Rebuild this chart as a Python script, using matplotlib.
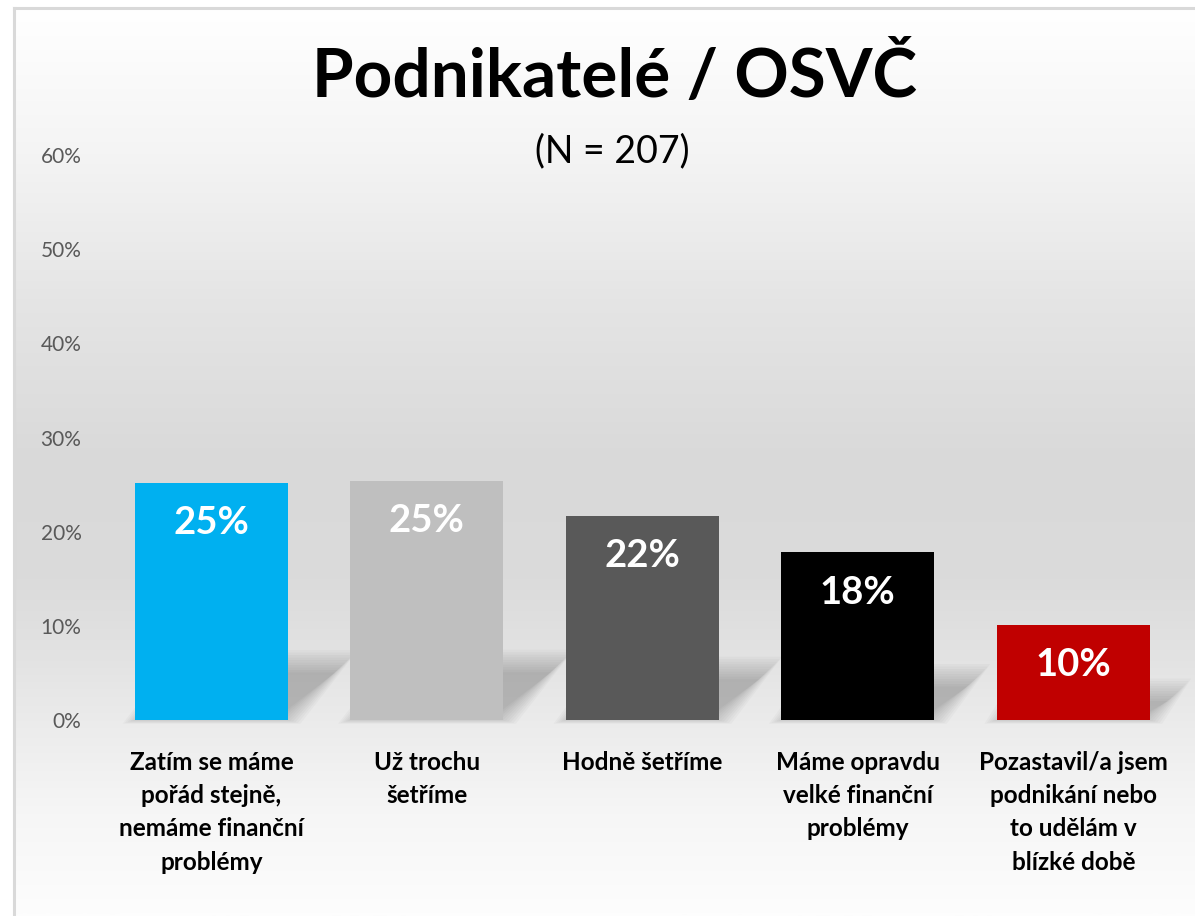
import numpy as np
import matplotlib.pyplot as plt
from matplotlib.colors import LinearSegmentedColormap
from matplotlib.patches import Polygon
from matplotlib.lines import Line2D

# data
categories = ['Zatím se máme\npořád stejně,\nnemáme finanční\nproblémy',
              'Už trochu\nšetříme',
              'Hodně šetříme',
              'Máme opravdu\nvelké finanční\nproblémy',
              'Pozastavil/a jsem\npodnikání nebo\nto udělám v\nblízké době']
values = [0.252, 0.254, 0.217, 0.178, 0.101]
value_labels = ['25%', '25%', '22%', '18%', '10%']
bar_colors = ['#00B0F0', '#BFBFBF', '#595959', '#000000', '#C00000']
yticks = [0.0, 0.1, 0.2, 0.3, 0.4, 0.5, 0.6]
ytick_labels = ['0%', '10%', '20%', '30%', '40%', '50%', '60%']

title = 'Podnikatelé / OSVČ'
subtitle = '(N = 207)'

plt.rcParams['font.family'] = ['Lato', 'DejaVu Sans']

W, H = 1195, 916
fig = plt.figure(figsize=(W / 100, H / 100), dpi=100)

# background gradient inside the chart frame
bg = fig.add_axes([14 / W, 0, 1 - 14 / W, (H - 8) / H], zorder=0)
stops = [(0.0, '#ffffff'), (0.16, '#f4f4f4'), (0.32, '#e5e5e5'), (0.50, '#d9d9d9'),
         (0.63, '#dbdbdb'), (0.72, '#e3e3e3'), (0.785, '#ebebeb'), (0.89, '#f6f6f6'),
         (1.0, '#fdfdfd')]
cmap = LinearSegmentedColormap.from_list('bg', stops)
grad = np.linspace(0, 1, 512).reshape(-1, 1)
bg.imshow(grad, aspect='auto', cmap=cmap, extent=[0, 1, 0, 1], origin='upper')
bg.set_axis_off()

fig.add_artist(Line2D([14 / W, 14 / W], [0, (H - 8) / H], transform=fig.transFigure,
                      color='#d9d9d9', lw=2.2))
fig.add_artist(Line2D([14 / W, 1], [(H - 8) / H, (H - 8) / H], transform=fig.transFigure,
                      color='#d9d9d9', lw=2.2))

ax = fig.add_axes([103.75 / W, 196 / H, (1181 - 103.75) / W, 565 / H], zorder=1)
ax.patch.set_alpha(0)

x = np.arange(len(categories))
bar_w = 0.71
px_y = 0.6 / 565      # data units per pixel, y
px_x = 1 / 215.5      # data units per pixel, x

# soft floor shadows behind the bars
for xi, v in zip(x, values):
    hs = (10 + 0.2 * v / px_y)        # shadow height in px
    d = 1.0 * hs                      # horizontal skew in px
    x0, x1 = xi - bar_w / 2, xi + bar_w / 2
    for k in range(10):
        e = (k - 4) * 2.5
        poly = [(x0 - e * px_x, -e * px_y * 0.3),
                (x1 + e * px_x, -e * px_y * 0.3),
                (x1 + (d + e) * px_x, (hs + e) * px_y),
                (x0 + (d - e) * px_x, (hs + e) * px_y)]
        ax.add_patch(Polygon(poly, closed=True, facecolor='black', edgecolor='none',
                             alpha=0.022, zorder=1, clip_on=False))

bars = ax.bar(x, values, width=bar_w, color=bar_colors, zorder=2)

for xi, v, lab in zip(x, values, value_labels):
    ax.annotate(lab, (xi, v), xytext=(0, -29), textcoords='offset points',
                ha='center', va='center', color='white', fontsize=27.5,
                fontweight='bold', zorder=3)

ax.set_xlim(-0.5, len(categories) - 0.5)
ax.set_ylim(0, 0.6)
ax.set_yticks(yticks)
ax.set_yticklabels(ytick_labels, color='#595959', fontsize=15)
ax.set_xticks(x)
ax.set_xticklabels(categories, fontsize=17.5, fontweight='bold', linespacing=1.55)
ax.tick_params(axis='y', length=0, pad=16)
ax.tick_params(axis='x', length=0, pad=22)
for s in ax.spines.values():
    s.set_visible(False)

fig.text(615 / W, 1 - 77 / H, title, ha='center', va='center',
         fontsize=48.5, fontweight='bold')
fig.text(612 / W, 1 - 151 / H, subtitle, ha='center', va='center', fontsize=27)

fig.savefig('out.png', dpi=100)
